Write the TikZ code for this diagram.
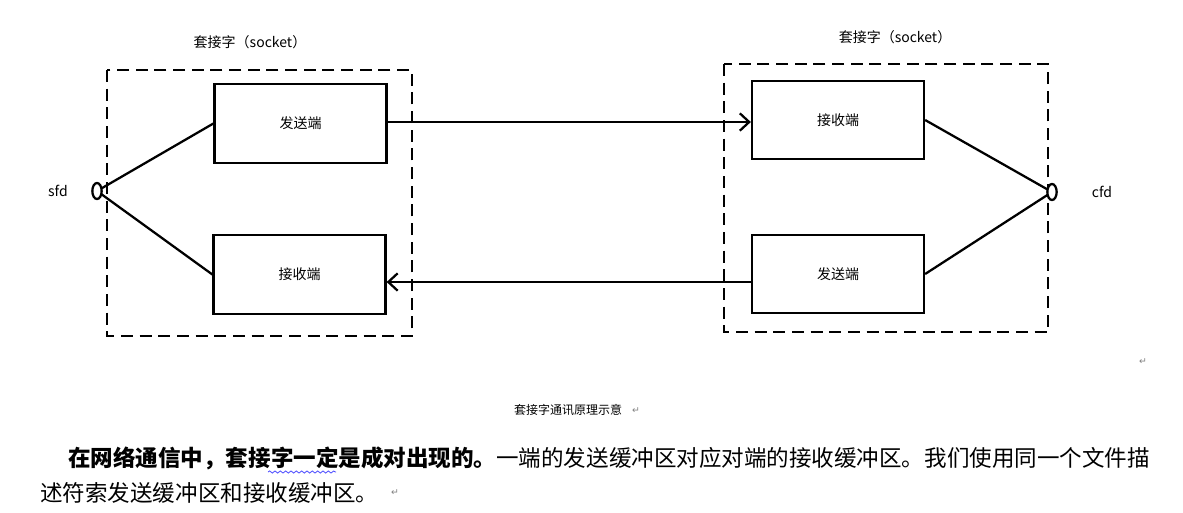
\documentclass[tikz,border=0pt]{standalone}
\usepackage{fontspec}
\setmainfont{Noto Sans CJK SC}
\newfontfamily\markfont{DejaVu Sans}
\usepackage{tikz}
\usetikzlibrary{calc,arrows.meta,positioning,shapes.geometric,decorations.pathmorphing}
\tikzset{
	buf/.style={draw,line width=1.7pt,minimum width=129pt,minimum height=59pt,font=\fontsize{10.5}{12}\selectfont},
	sock/.style={draw,line width=1.8pt,dash pattern=on 9pt off 5pt},
	wire/.style={line width=1.7pt},
	hole/.style={draw,line width=1.7pt,ellipse,fill=white,inner sep=0pt,minimum width=7pt,minimum height=12pt},
	para/.style={anchor=west,inner sep=0pt,font=\fontsize{16.9}{20}\selectfont},
	retmark/.style={text=gray,font=\markfont\fontsize{7}{8}\selectfont}
}
\begin{document}
\begin{tikzpicture}[x=0.75pt,y=-0.75pt]
		\useasboundingbox (0,0) rectangle (1183,512);
		% left socket
		\draw[sock] (107,70) rectangle (412,336);
		\node (ltitle) at (250,42) {\fontsize{10.5}{12}\selectfont 套接字（socket）};
		\node[buf] (lsend) at (300.5,123.5) {发送端};
		\node[buf] (lrecv) at (299.5,274.5) {接收端};
		\node (sfd) at (58,191) {\fontsize{10.5}{12}\selectfont sfd};
		% right socket
		\draw[sock] (724,64) rectangle (1048,332);
		\node (rtitle) at (895,37) {\fontsize{10.5}{12}\selectfont 套接字（socket）};
		\node[buf] (rrecv) at (838,120) {接收端};
		\node[buf] (rsend) at (838,274) {发送端};
		\node (cfd) at (1102,192) {\fontsize{10.5}{12}\selectfont cfd};
		% wires
		\draw[wire] (97,191) -- (lsend.west);
		\draw[wire] (97,191) -- (lrecv.west);
		\draw[wire] (1052,192) -- (rrecv.east);
		\draw[wire] (1052,192) -- (rsend.east);
		\node[hole] (sfdhole) at (97,191) {};
		\node[hole] (cfdhole) at (1052,192) {};
		% data flow
		\draw[wire,-{Straight Barb[length=7pt,width=13pt,line width=1.7pt]}] (lsend.east |- 0,122) -- (rrecv.west |- 0,122);
		\draw[wire,-{Straight Barb[length=7pt,width=13pt,line width=1.7pt]}] (rsend.west |- 0,282) -- (lrecv.east |- 0,282);
		% caption and text
		\node (cap) at (568,410) {\fontsize{9}{11}\selectfont 套接字通讯原理示意};
		\node[retmark] (m1) at (1143,362) {↵};
		\node[retmark] (m2) at (636,411) {↵};
		\node[para] (line2) at (40,493) {述符索发送缓冲区和接收缓冲区。};
		\node[para] (line1) at (68,458) {\textbf{在网络通信中，套接字一定是成对出现的。}一端的发送缓冲区对应对端的接收缓冲区。我们使用同一个文件描};
		\node[retmark,right=6pt of line2] (m3) {↵};
		\coordinate (wavea) at (268,472);
		\coordinate (waveb) at (336,472);
		\draw[blue!70,line width=0.6pt,decorate,decoration={snake,amplitude=0.8pt,segment length=4pt}] (wavea) -- (waveb);
	\end{tikzpicture}
\end{document}
